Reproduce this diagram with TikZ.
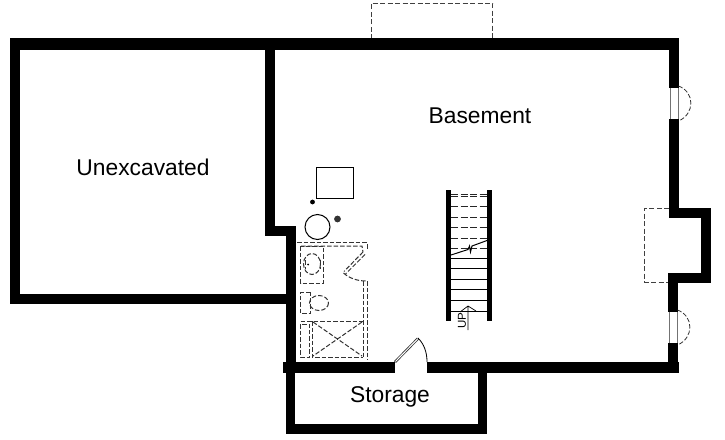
\documentclass[tikz,border=0pt]{standalone}
\usepackage{fontspec}
\setmainfont{Liberation Sans}
\tikzset{
  wall/.style={fill=black},
  dsh/.style={draw=black!75,line width=0.9pt,dash pattern=on 5pt off 2.5pt},
  dshfine/.style={draw=black!80,line width=1pt,dash pattern=on 4.5pt off 2pt},
  thinline/.style={draw=black,line width=1pt},
  glass/.style={draw=black!55,line width=0.9pt},
  roomlabel/.style={font=\fontsize{22.8}{26}\selectfont,text=black,inner sep=0pt}
}
\begin{document}
\begin{tikzpicture}[x=1pt,y=-1pt]
\useasboundingbox[fill=white] (0,0) rectangle (725,439);
% dashed projections
\draw[dsh] (371,39) -- (371,3) -- (492.5,3) -- (492.5,39);
\draw[dsh] (669,208) -- (644.5,208) -- (644.5,282) -- (668,282);
% main walls
\fill[wall] (10,38) rectangle (679,49.5);
\fill[wall] (10,38) rectangle (20,304);
\fill[wall] (10,294) rectangle (296,304);
\fill[wall] (265,38) rectangle (275,236);
\fill[wall] (265,226) rectangle (296,236);
\fill[wall] (286,226) rectangle (296,372);
\fill[wall] (283,361.5) rectangle (395,372.5);
\fill[wall] (427,362) rectangle (679,373);
% right side
\fill[wall] (669,38) rectangle (679,88);
\fill[wall] (669,119) rectangle (679,217);
\fill[wall] (669,208) rectangle (711,217.5);
\fill[wall] (701,208) rectangle (711,283);
\fill[wall] (668,273) rectangle (711,283);
\fill[wall] (668,273) rectangle (678,312);
\fill[wall] (668,343) rectangle (678,373);
% storage
\fill[wall] (285.5,372) rectangle (295,434);
\fill[wall] (285.5,424) rectangle (487,434);
\fill[wall] (478,372) rectangle (487,434);
% windows
\draw[glass] (670,88) -- (670,119) (678,88) -- (678,119);
\draw[glass] (669,312) -- (669,343) (677,312) -- (677,343);
\draw[dshfine,line width=0.8pt] (678.5,86) .. controls (695,92) and (695,114) .. (678.5,121);
\draw[dshfine,line width=0.8pt] (677.5,310) .. controls (694,316) and (694,338) .. (677.5,345);
% door
\draw[black!80,line width=2.6pt] (395,362) -- (418,338.5);
\draw[white,line width=1pt] (395.5,361.5) -- (418,338.5);
\draw[thinline,line width=0.8pt] (418,338) .. controls (424,344) and (427,352) .. (427,362);
% stairs
\fill[wall] (446,190) rectangle (451,321);
\fill[wall] (487,190) rectangle (492,321);
\foreach \yy in {194,196.5,206,217,227,238,248}
  \draw[dshfine,draw=black!85,dash pattern=on 7pt off 2.5pt] (451,\yy) -- (487,\yy);
\foreach \yy in {258,268,279,289,300,311}
  \draw[thinline] (451,\yy) -- (487,\yy);
\draw[thinline] (451,255) -- (468,249.5) -- (469.5,246) -- (470.5,252) -- (472,246) -- (487,240.5);
\draw[thinline,line width=0.7pt] (468,330) -- (468,306) (460,312) -- (468,306) -- (476,311);
\node[rotate=90,font=\fontsize{11.5}{12}\selectfont,inner sep=0pt] (up) at (462,321) {UP};
% mechanical
\draw[thinline] (316.5,167) rectangle (353.5,198);
\draw[thinline] (317.5,227) circle[radius=12.5];
\fill (312.5,202) circle[radius=2.4];
\fill[black!80] (337.5,219) circle[radius=3.4];
% bathroom
\draw[dshfine] (297,242.5) -- (367,242.5) -- (367,250);
\draw[dshfine] (301,246) -- (362,246) -- (363,252);
\draw[dshfine] (363,252) -- (344,271.5);
\draw[dshfine] (365,254.5) -- (345.5,274);
\draw[dshfine] (343.5,273) .. controls (349,278) and (357,281) .. (366,281);
\draw[dshfine] (367,281) -- (367,360);
\draw[dshfine] (363,281) -- (363,358);
\draw[dshfine] (300.5,246) rectangle (323.5,283);
\draw[dshfine] (312,264) ellipse[x radius=8.5,y radius=10.5];
\draw[dshfine] (305,260) -- (305,269) (320,260) -- (320,269);
\fill (308,264.5) circle[radius=1];
\draw[dshfine] (310,292) -- (300.5,292) -- (300.5,313.5) -- (310,313.5) -- cycle;
\draw[dshfine] (319,303) ellipse[x radius=9.5,y radius=7.5];
\draw[dshfine] (300.5,321) -- (363,321);
\draw[dshfine] (300.5,324) rectangle (309.5,357);
\draw[dshfine] (312,321) -- (312,357) -- (363,357);
\draw[dshfine] (313,322) -- (362,356) (362,322) -- (313,356);
% labels
\node[roomlabel] (base) at (480,115.5) {Basement};
\node[roomlabel] (unex) at (143,167.5) {Unexcavated};
\node[roomlabel] (stor) at (390,397) {Storage};
\end{tikzpicture}
\end{document}
